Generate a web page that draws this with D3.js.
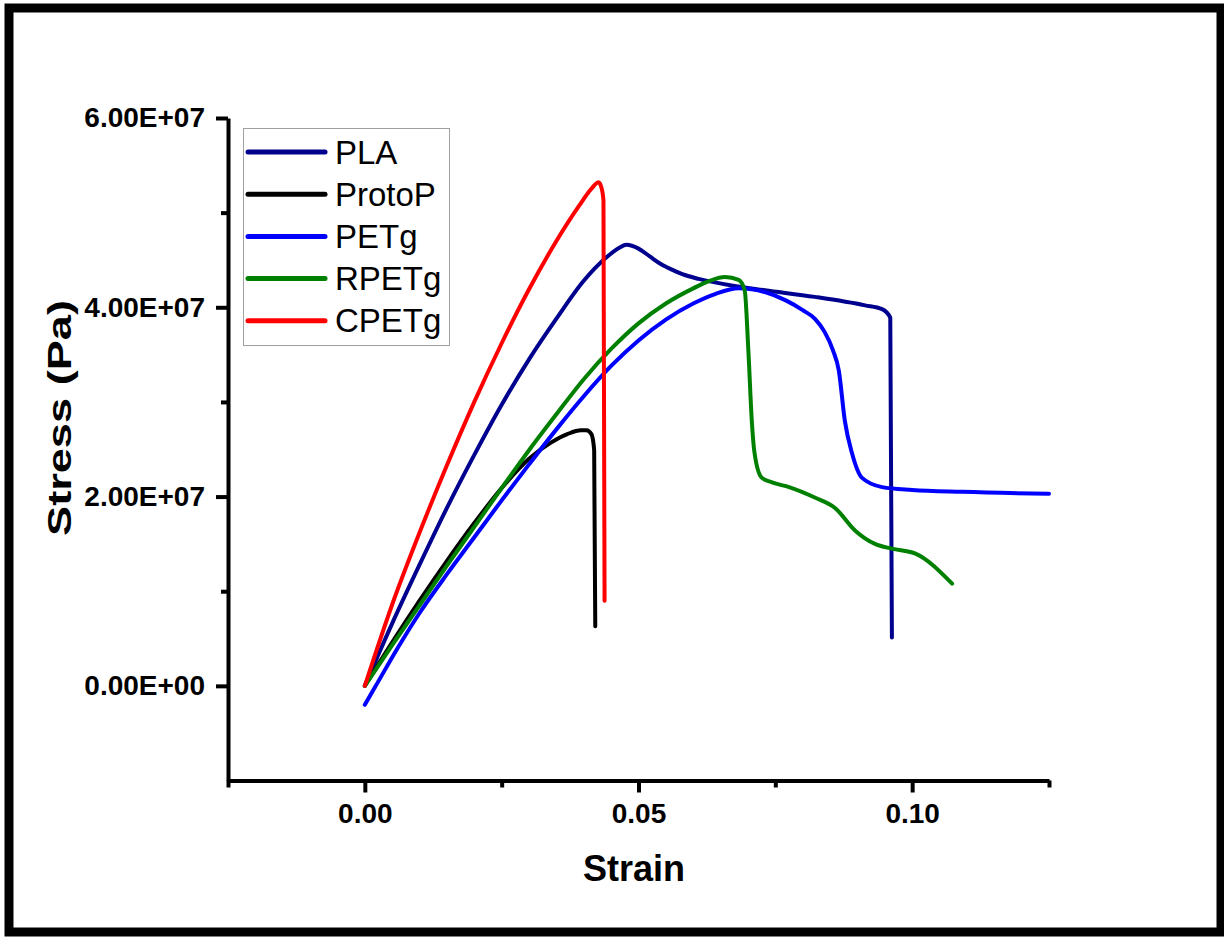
<!DOCTYPE html>
<html>
<head>
<meta charset="utf-8">
<script src="https://cdn.jsdelivr.net/npm/d3@7"></script>
<style>
  html, body { margin: 0; padding: 0; background: #fff; }
  svg text { font-family: "Liberation Sans", Arial, sans-serif; }
</style>
</head>
<body>
<svg id="chart" width="1224" height="938"></svg>
<script>
// strain (-) vs stress (Pa)
const pla = [[0, 0], [0.005, 0.66e7], [0.010, 1.28e7], [0.015, 1.88e7], [0.020, 2.44e7], [0.025, 2.97e7],
  [0.030, 3.45e7], [0.035, 3.88e7], [0.040, 4.28e7], [0.044, 4.52e7], [0.0465, 4.63e7], [0.0478, 4.66e7],
  [0.050, 4.62e7], [0.052, 4.54e7], [0.054, 4.46e7], [0.056, 4.40e7], [0.058, 4.35e7], [0.061, 4.30e7],
  [0.067, 4.23e7], [0.0731, 4.18e7], [0.0822, 4.11e7], [0.0914, 4.02e7], [0.0945, 3.98e7],
  [0.0960, 3.89e7], [0.0963, 0.51e7]];
const protoP = [[0, 0], [0.005, 0.46e7], [0.010, 0.90e7], [0.015, 1.32e7], [0.020, 1.72e7], [0.025, 2.09e7],
  [0.030, 2.40e7], [0.034, 2.57e7], [0.037, 2.66e7], [0.0395, 2.70e7], [0.0405, 2.70e7], [0.0414, 2.66e7],
  [0.0419, 2.49e7], [0.0421, 0.63e7]];
const petg = [[0, -0.20e7], [0.002, 0.0], [0.006, 0.40e7], [0.010, 0.77e7], [0.015, 1.18e7], [0.020, 1.57e7],
  [0.025, 1.96e7], [0.030, 2.34e7], [0.035, 2.71e7], [0.040, 3.06e7], [0.045, 3.38e7], [0.050, 3.65e7],
  [0.055, 3.87e7], [0.060, 4.04e7], [0.064, 4.14e7], [0.0683, 4.20e7], [0.0731, 4.16e7], [0.0770, 4.07e7],
  [0.0800, 3.97e7], [0.0822, 3.88e7], [0.0840, 3.74e7], [0.0855, 3.55e7], [0.0866, 3.33e7], [0.0877, 2.80e7],
  [0.0890, 2.46e7], [0.0908, 2.20e7], [0.0945, 2.10e7], [0.1000, 2.07e7], [0.1092, 2.05e7], [0.1250, 2.03e7]];
const rpetg = [[0, 0], [0.005, 0.43e7], [0.010, 0.85e7], [0.015, 1.27e7], [0.020, 1.68e7], [0.025, 2.09e7],
  [0.030, 2.49e7], [0.035, 2.87e7], [0.040, 3.24e7], [0.045, 3.56e7], [0.050, 3.83e7], [0.055, 4.04e7],
  [0.060, 4.20e7], [0.063, 4.28e7], [0.0658, 4.32e7], [0.0683, 4.29e7], [0.0694, 4.18e7], [0.0701, 3.51e7],
  [0.0707, 2.80e7], [0.0712, 2.46e7], [0.0725, 2.20e7], [0.0744, 2.15e7], [0.0775, 2.10e7], [0.0822, 1.99e7],
  [0.0859, 1.88e7], [0.0896, 1.64e7], [0.0932, 1.50e7], [0.0963, 1.45e7], [0.1005, 1.40e7], [0.1073, 1.08e7]];
const cpetg = [[0, 0], [0.005, 0.86e7], [0.010, 1.62e7], [0.015, 2.33e7], [0.020, 3.00e7], [0.025, 3.62e7],
  [0.030, 4.19e7], [0.035, 4.70e7], [0.039, 5.06e7], [0.0415, 5.26e7], [0.0427, 5.32e7], [0.0432, 5.27e7],
  [0.0436, 5.13e7], [0.0438, 0.90e7]];

const seriesNames = ['PLA', 'ProtoP', 'PETg', 'RPETg', 'CPETg'];
const seriesData = [pla, protoP, petg, rpetg, cpetg];
const seriesColors = ['#00008f', '#000000', '#0000ff', '#008000', '#ff0000'];

const xMajor = [0, 0.05, 0.10];
const xMinor = [-0.025, 0.025, 0.075, 0.125];
const yMajor = [0, 2e7, 4e7, 6e7];
const yMinor = [1e7, 3e7, 5e7];

const svg = d3.select('#chart');

// outer frame
svg.append('rect')
  .attr('x', 9).attr('y', 8)
  .attr('width', 1212).attr('height', 924)
  .attr('fill', 'none')
  .attr('stroke', '#000')
  .attr('stroke-width', 9);

const xScale = d3.scaleLinear().domain([-0.025, 0.125]).range([228, 1049]);
const yScale = d3.scaleLinear().domain([-1e7, 6e7]).range([780.5, 118]);

// 0.00E+00 style labels
function sci(v) {
  if (v === 0) return '0.00E+00';
  const e = Math.floor(Math.log10(Math.abs(v)));
  const m = v / Math.pow(10, e);
  return m.toFixed(2) + 'E' + (e < 0 ? '-' : '+') + String(Math.abs(e)).padStart(2, '0');
}

// curves
const line = d3.line()
  .x(d => xScale(d[0]))
  .y(d => yScale(d[1]))
  .curve(d3.curveMonotoneX);

svg.append('g').selectAll('path')
  .data(seriesData)
  .enter()
  .append('path')
  .attr('d', line)
  .attr('fill', 'none')
  .attr('stroke', (d, i) => seriesColors[i])
  .attr('stroke-width', 4)
  .attr('stroke-linejoin', 'round')
  .attr('stroke-linecap', 'round');

// x axis
const xAxisG = svg.append('g')
  .attr('transform', `translate(0, ${yScale.range()[0]})`);
xAxisG.call(d3.axisBottom(xScale).tickValues(xMajor).tickSize(12).tickSizeOuter(0).tickFormat(d3.format('.2f')));
xAxisG.append('g').call(d3.axisBottom(xScale).tickValues(xMinor).tickSize(7).tickFormat(''))
  .select('.domain').remove();

// y axis
const yAxisG = svg.append('g')
  .attr('transform', `translate(${xScale.range()[0]}, 0)`);
yAxisG.call(d3.axisLeft(yScale).tickValues(yMajor).tickSize(12).tickSizeOuter(0).tickFormat(sci));
yAxisG.append('g').call(d3.axisLeft(yScale).tickValues(yMinor).tickSize(7).tickFormat(''))
  .select('.domain').remove();

svg.selectAll('.domain').attr('stroke', '#000').attr('stroke-width', 4);
svg.selectAll('.tick line').attr('stroke', '#000').attr('stroke-width', 4);
svg.selectAll('.tick text')
  .attr('fill', '#000')
  .style('font-size', '28px')
  .style('font-weight', 'bold')
  .style('font-family', '"Liberation Sans", Arial, sans-serif');
xAxisG.selectAll('.tick text').attr('y', 23);
yAxisG.selectAll('.tick text').attr('x', -23);

// axis titles
svg.append('text')
  .attr('x', 634)
  .attr('y', 881)
  .attr('text-anchor', 'middle')
  .style('font-size', '36px')
  .style('font-weight', 'bold')
  .text('Strain');

svg.append('text')
  .attr('transform', 'translate(71, 418) rotate(-90)')
  .attr('text-anchor', 'middle')
  .attr('textLength', 236)
  .attr('lengthAdjust', 'spacingAndGlyphs')
  .style('font-size', '34px')
  .style('font-weight', 'bold')
  .text('Stress (Pa)');

// legend
const legend = svg.append('g');
legend.append('rect')
  .attr('x', 243.5).attr('y', 128.5)
  .attr('width', 206).attr('height', 217)
  .attr('fill', '#fff')
  .attr('stroke', '#a0a0a0')
  .attr('stroke-width', 1);

const items = legend.selectAll('g.item')
  .data(seriesNames)
  .enter()
  .append('g')
  .attr('class', 'item')
  .attr('transform', (d, i) => `translate(0, ${152 + i * 42.2})`);

items.append('line')
  .attr('x1', 248).attr('x2', 325)
  .attr('stroke', (d, i) => seriesColors[i])
  .attr('stroke-width', 5)
  .attr('stroke-linecap', 'round');

items.append('text')
  .attr('x', 335)
  .attr('dy', '0.35em')
  .style('font-size', '33px')
  .text(d => d);
</script>
</body>
</html>
